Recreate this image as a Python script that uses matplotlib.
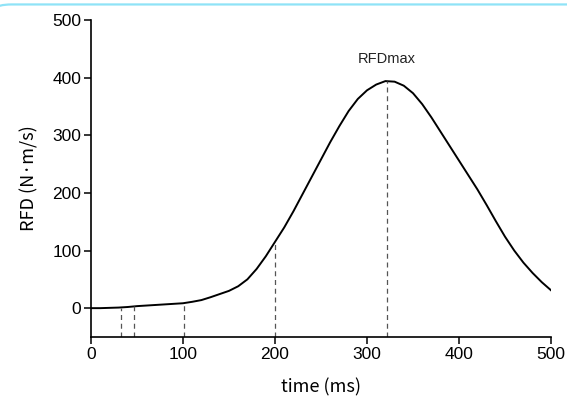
import numpy as np
import matplotlib.pyplot as plt
from matplotlib.patches import FancyBboxPatch

# RFD curve
time_ms = [0, 10, 20, 30, 40, 50, 60, 70, 80, 90, 100, 110, 120, 130, 140, 150,
           160, 170, 180, 190, 200, 210, 220, 230, 240, 250, 260, 270, 280, 290,
           300, 310, 320, 330, 340, 350, 360, 370, 380, 390, 400, 410, 420, 430,
           440, 450, 460, 470, 480, 490, 500]
rfd = [0, 0, 0.5, 1, 2, 3.5, 4.5, 5.5, 6.5, 7.5, 8.5, 11, 14, 19, 24.5, 30,
       38, 50, 68, 90, 115, 140, 168, 198, 228, 258, 288, 316, 342, 363,
       378, 388, 394, 393, 386, 373, 354, 331, 306, 281, 256, 231, 206, 179,
       151, 124, 100, 79, 61, 45, 31]

# dashed markers (time, curve value)
mark_t = [33, 47, 101, 200, 322]
mark_v = [1, 3, 8.5, 115, 394]

fig = plt.figure(figsize=(5.67, 4.05), dpi=100)
ax = fig.add_axes([0.1605, 0.168, 0.8113, 0.7826])

# light cyan frame at the top
frame = FancyBboxPatch((-0.025, -0.5), 1.2, 1.5 - 0.011, transform=fig.transFigure,
                       boxstyle="round,pad=0,rounding_size=0.045",
                       fc='none', ec='#8fe3f7', lw=1.6, zorder=0)
fig.patches.append(frame)

ax.plot(time_ms, rfd, color='black', lw=1.4)
for t, v in zip(mark_t, mark_v):
    ax.plot([t, t], [-50, v], color='#555555', lw=0.9, ls=(0, (4, 3)))

ax.text(322, 420, 'RFDmax', ha='center', va='bottom', fontsize=10.5,
        family='Liberation Sans', color='#222222')

ax.set_xlim(0, 500)
ax.set_ylim(-50, 500)
ax.set_xticks([0, 100, 200, 300, 400, 500])
ax.set_yticks([0, 100, 200, 300, 400, 500])
ax.spines['top'].set_visible(False)
ax.spines['right'].set_visible(False)
ax.spines['bottom'].set_bounds(0, 500)
ax.spines['left'].set_bounds(-50, 500)
for s in ('left', 'bottom'):
    ax.spines[s].set_linewidth(1.2)
ax.tick_params(direction='out', length=5, width=1.1, labelsize=12.5, pad=2)
for lab in ax.get_xticklabels() + ax.get_yticklabels():
    lab.set_family('Liberation Sans')

ax.set_xlabel('time (ms)', fontsize=13, family=['Noto Sans CJK JP', 'DejaVu Sans'],
              labelpad=12)
ax.set_ylabel('RFD (N·m/s)', fontsize=13, family=['Noto Sans CJK JP', 'DejaVu Sans'],
              labelpad=10)

fig.savefig('out.png', dpi=100)
